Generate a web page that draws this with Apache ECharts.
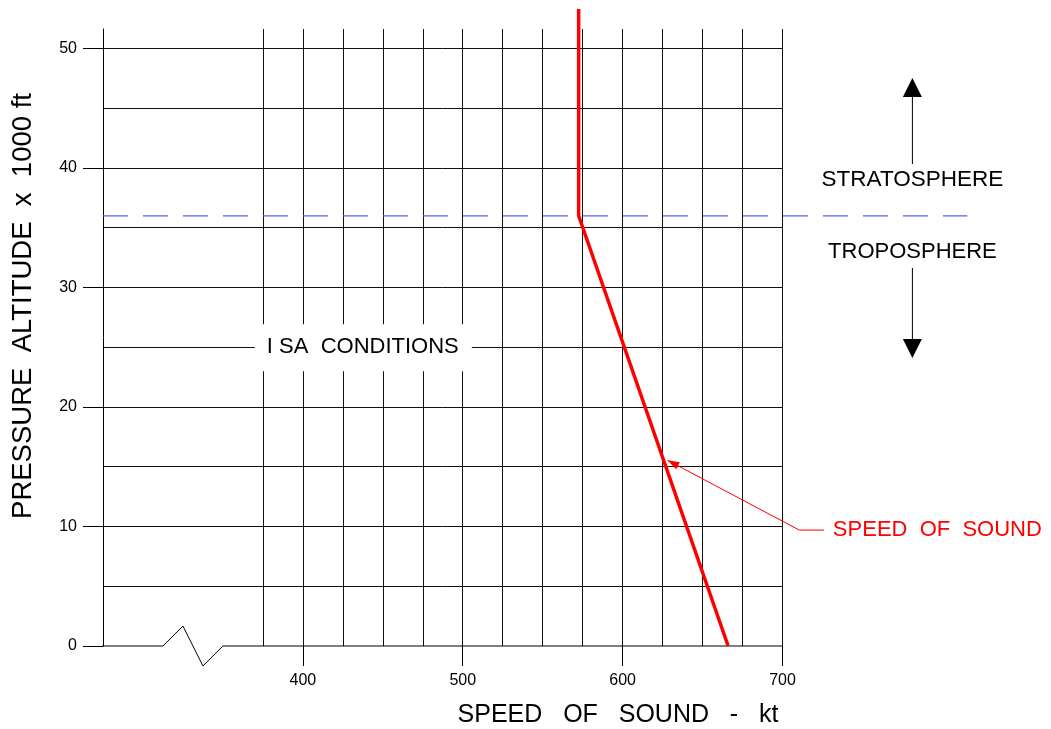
<!DOCTYPE html>
<html><head><meta charset="utf-8">
<script src="https://cdn.jsdelivr.net/npm/echarts@6/dist/echarts.min.js"></script>
<style>html,body{margin:0;padding:0;background:#fff}#c{width:1051px;height:729px}</style>
</head><body><div id="c"></div>
<script>
// ---- data ----
const altitudeTicks = [0, 10, 20, 30, 40, 50];
const altitudeGrid = [5, 10, 15, 20, 25, 30, 35, 40, 45, 50];
const speedTicks = [400, 500, 600, 700];
const speedGrid = [375, 400, 425, 450, 475, 500, 525, 550, 575, 600, 625, 650, 675, 700];
const soundSpeedKt = [666, 572.5, 572.5];
const soundAltitude = [0, 36, 53.3];
const tropopauseAltitude = 36;
const tropopauseSpeedSpan = [275, 815.6];
const axisBreakSpeed = [262.5, 312.5, 325, 337.5, 350, 700];
const axisBreakAltitude = [0, 0, 1.67, -1.67, 0, 0];

const FONT = '"Liberation Sans", Arial, sans-serif';
const chart = echarts.init(document.getElementById('c'), null, {renderer: 'canvas'});

const zip = (a, b) => a.map((v, i) => [v, b[i]]);

function annot(params, api) {
  const c = (x, y) => api.coord([x, y]);
  const kids = [];
  // tropopause dashed line
  const t0 = c(tropopauseSpeedSpan[0], tropopauseAltitude), t1 = c(tropopauseSpeedSpan[1], tropopauseAltitude);
  kids.push({type: 'line', shape: {x1: t0[0], y1: t0[1], x2: t1[0], y2: t1[1]},
    style: {stroke: '#5a5aff', lineWidth: 1.2, lineDash: [25, 15]}});
  // ISA box + label
  const isa = c(437.5, 25);
  kids.push({type: 'rect', shape: {x: isa[0] - 108, y: isa[1] - 23, width: 217, height: 47},
    style: {fill: '#fff'}});
  kids.push({type: 'text', style: {text: 'I SA  CONDITIONS', x: isa[0], y: isa[1], fill: '#000',
    font: '22px ' + FONT, align: 'center', verticalAlign: 'middle'}});
  // stratosphere / troposphere
  const st = c(781.25, 39), tr = c(781.25, 33);
  kids.push({type: 'text', style: {text: 'STRATOSPHERE', x: st[0], y: st[1], fill: '#000',
    font: '22.5px ' + FONT, align: 'center', verticalAlign: 'middle'}});
  kids.push({type: 'text', style: {text: 'TROPOSPHERE', x: tr[0], y: tr[1], fill: '#000',
    font: '22px ' + FONT, align: 'center', verticalAlign: 'middle'}});
  const u0 = c(781.25, 40.33), u1 = c(781.25, 47.53);
  kids.push({type: 'line', shape: {x1: u0[0], y1: u0[1], x2: u1[0], y2: u1[1] + 18}, style: {stroke: '#000', lineWidth: 1}});
  kids.push({type: 'polygon', shape: {points: [[u1[0], u1[1]], [u1[0] - 9.5, u1[1] + 19], [u1[0] + 9.5, u1[1] + 19]]}, style: {fill: '#000'}});
  const d0 = c(781.25, 31.63), d1 = c(781.25, 24.1);
  kids.push({type: 'line', shape: {x1: d0[0], y1: d0[1], x2: d1[0], y2: d1[1] - 18}, style: {stroke: '#000', lineWidth: 1}});
  kids.push({type: 'polygon', shape: {points: [[d1[0], d1[1]], [d1[0] - 9.5, d1[1] - 19], [d1[0] + 9.5, d1[1] - 19]]}, style: {fill: '#000'}});
  // speed of sound leader
  const tip = c(628, 15.55), corner = c(710.5, 9.7), end = c(726, 9.7), lab = c(731.5, 9.7);
  kids.push({type: 'polyline', shape: {points: [tip, corner, end]}, style: {stroke: '#ff0000', lineWidth: 1, fill: null}});
  const ang = Math.atan2(corner[1] - tip[1], corner[0] - tip[0]);
  const L = 12, W = 4;
  const bx = tip[0] + L * Math.cos(ang), by = tip[1] + L * Math.sin(ang);
  kids.push({type: 'polygon', shape: {points: [tip,
    [bx - W * Math.sin(ang), by + W * Math.cos(ang)],
    [bx + W * Math.sin(ang), by - W * Math.cos(ang)]]}, style: {fill: '#ff0000'}});
  kids.push({type: 'text', style: {text: 'SPEED  OF  SOUND', x: lab[0], y: lab[1], fill: '#ff0000',
    font: '22px ' + FONT, align: 'left', verticalAlign: 'middle'}});
  return {type: 'group', children: kids};
}

chart.setOption({
  animation: false,
  backgroundColor: '#fff',
  textStyle: {fontFamily: FONT},
  grid: {left: 103, right: 268.5, top: 29, bottom: 83, containLabel: false},
  xAxis: {
    type: 'value', min: 275, max: 700,
    axisLine: {show: false},
    axisTick: {show: true, customValues: speedTicks, length: 20, lineStyle: {color: '#000', width: 1}},
    axisLabel: {customValues: speedTicks, fontSize: 16, color: '#000', margin: 27, fontFamily: FONT},
    splitLine: {show: false}
  },
  yAxis: {
    type: 'value', min: 0, max: 51.63,
    axisLine: {show: true, lineStyle: {color: '#000', width: 1}},
    axisTick: {show: true, customValues: altitudeTicks, length: 20, lineStyle: {color: '#000', width: 1}},
    axisLabel: {customValues: altitudeTicks, fontSize: 16, color: '#000', margin: 26, fontFamily: FONT},
    splitLine: {show: false}
  },
  graphic: [
    {type: 'text', x: 23, y: 306, rotation: Math.PI / 2, z: 100,
      style: {text: 'PRESSURE  ALTITUDE  x  1000 ft', font: '27.5px ' + FONT, fill: '#000', align: 'center', verticalAlign: 'middle'}},
    {type: 'text', x: 618, y: 715, z: 100,
      style: {text: 'SPEED   OF   SOUND   -   kt', font: '25px ' + FONT, fill: '#000', align: 'center', verticalAlign: 'middle'}}
  ],
  series: [
    {
      type: 'line', name: 'baseline', data: zip(axisBreakSpeed, axisBreakAltitude),
      symbol: 'none', clip: false, silent: true, z: 3,
      lineStyle: {color: '#000', width: 1},
      markLine: {
        silent: true, symbol: ['none', 'none'], z: 1, animation: false,
        label: {show: false},
        lineStyle: {color: '#111', width: 1, type: 'solid'},
        emphasis: {disabled: true},
        data: speedGrid.map(v => ({xAxis: v})).concat(altitudeGrid.map(v => ({yAxis: v})))
      }
    },
    {
      type: 'custom', name: 'annotations', data: [[0, 0]], clip: false, silent: true, z: 10,
      renderItem: annot
    },
    {
      type: 'line', name: 'speed of sound', data: zip(soundSpeedKt, soundAltitude),
      symbol: 'none', clip: false, silent: true, z: 20,
      lineStyle: {color: '#ff0000', width: 3.5}
    }
  ]
});
</script>
</body></html>
